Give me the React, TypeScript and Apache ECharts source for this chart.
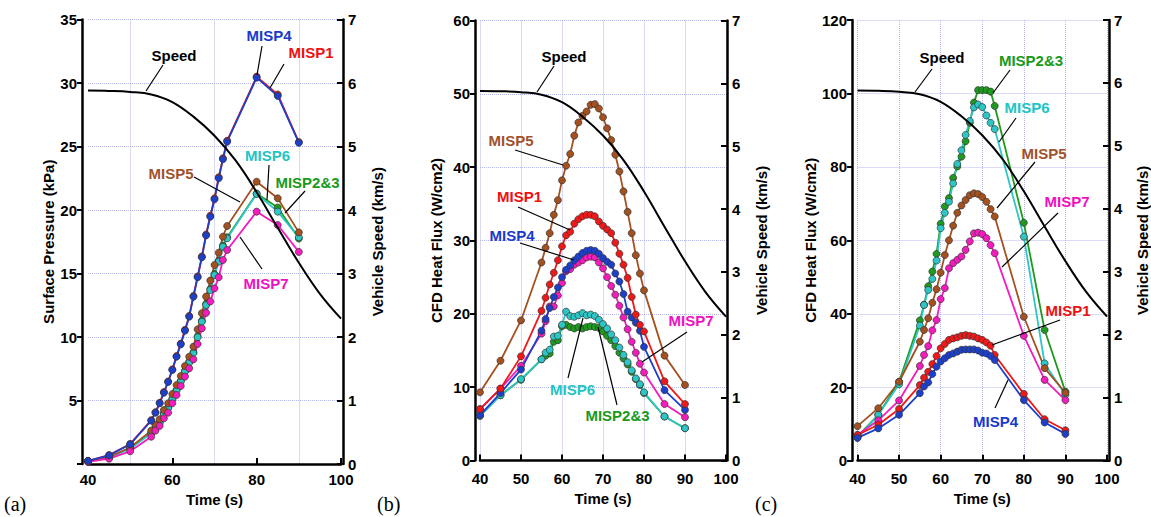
import React, { useEffect, useRef } from "react";
import * as echarts from "echarts";

// ---------- DATA ----------
const timeA = [40, 45, 50, 55, 56, 57, 58, 59, 60, 61, 62, 63, 64, 65, 66, 67, 68, 69, 70, 71, 72, 73, 80, 85, 90];
const timeB = [40, 45, 50, 55, 56, 57, 58, 59, 60, 61, 62, 63, 64, 65, 66, 67, 68, 69, 70, 71, 72, 73, 74, 75, 76, 77, 78, 79, 80, 85, 90];
const timeC = [40, 45, 50, 55, 56, 57, 58, 59, 60, 61, 62, 63, 64, 65, 66, 67, 68, 69, 70, 71, 72, 73, 80, 85, 90];

const speedTime = [40, 45, 50, 55, 60, 65, 70, 75, 80, 85, 90, 95, 100];
const speedKms = [5.88, 5.875, 5.86, 5.82, 5.7, 5.47, 5.17, 4.78, 4.28, 3.72, 3.17, 2.68, 2.29];

// (a) Surface pressure, kPa
const pressMISP1 = [0.25, 0.7, 1.58, 3.45, 4.08, 4.82, 5.66, 6.5, 7.45, 8.5, 9.48, 10.56, 11.66, 13.23, 14.77, 16.34, 18.07, 19.55, 20.92, 22.58, 24.08, 25.46, 30.5, 29.1, 25.35];
const pressMISP23 = [0.23, 0.52, 1.27, 2.47, 2.86, 3.3, 4.0, 4.44, 5.15, 5.84, 6.55, 7.34, 8.05, 8.8, 10.05, 11.28, 12.6, 13.78, 14.95, 16.0, 17.2, 17.85, 21.3, 20.2, 17.75];
const pressMISP4 = [0.24, 0.68, 1.55, 3.41, 4.04, 4.78, 5.61, 6.46, 7.4, 8.45, 9.42, 10.5, 11.6, 13.17, 14.7, 16.27, 18.0, 19.47, 20.84, 22.5, 24.0, 25.38, 30.42, 28.98, 25.3];
const pressMISP5 = [0.25, 0.55, 1.3, 2.63, 3.07, 3.52, 4.25, 4.78, 5.51, 6.22, 6.93, 7.72, 8.45, 9.24, 10.6, 11.87, 13.18, 14.44, 15.67, 16.64, 17.9, 18.74, 22.23, 20.92, 18.24];
const pressMISP6 = [0.22, 0.5, 1.2, 2.42, 2.8, 3.25, 3.94, 4.38, 5.09, 5.78, 6.48, 7.27, 7.98, 8.72, 9.98, 11.2, 12.52, 13.7, 14.88, 15.93, 17.11, 17.77, 21.26, 19.87, 17.85];
const pressMISP7 = [0.16, 0.42, 1.0, 2.15, 2.63, 3.0, 3.6, 4.04, 4.78, 5.43, 6.14, 6.88, 7.53, 8.24, 9.45, 10.68, 11.9, 12.8, 13.83, 14.7, 16.06, 16.85, 19.87, 18.82, 16.7];

// (b) CFD heat flux, W/cm2
const fluxB_MISP1 = [7.0, 9.8, 14.2, 20.4, 22.2, 24.0, 25.6, 27.3, 29.2, 30.7, 31.2, 32.3, 32.9, 33.3, 33.5, 33.5, 33.3, 32.6, 32.0, 31.5, 31.0, 29.7, 28.2, 26.7, 24.9, 22.3, 19.9, 18.5, 17.6, 10.8, 7.7];
const fluxB_MISP23 = [6.1, 8.9, 11.0, 13.8, 14.3, 14.6, 16.2, 16.4, 18.3, 18.5, 18.2, 18.0, 18.2, 18.0, 18.2, 18.3, 18.2, 18.1, 17.6, 17.0, 16.4, 15.6, 14.7, 13.9, 13.1, 12.1, 11.1, 10.3, 9.2, 6.0, 4.4];
const fluxB_MISP4 = [6.2, 9.2, 12.4, 17.7, 19.3, 20.8, 22.3, 23.6, 25.0, 26.0, 26.6, 27.3, 27.8, 28.3, 28.6, 28.7, 28.6, 28.2, 27.6, 27.1, 26.7, 25.5, 24.4, 22.7, 20.3, 19.5, 18.8, 17.7, 15.5, 9.6, 6.9];
const fluxB_MISP5 = [9.3, 13.6, 19.1, 27.0, 29.0, 31.0, 33.5, 35.5, 38.2, 40.2, 41.8, 44.3, 46.1, 47.0, 47.6, 48.5, 48.6, 48.0, 46.8, 45.3, 43.7, 41.7, 39.4, 36.7, 33.9, 31.0, 28.0, 25.5, 23.2, 14.3, 10.3];
const fluxB_MISP6 = [6.1, 8.9, 11.1, 13.8, 14.7, 15.1, 16.9, 17.0, 18.5, 20.3, 19.7, 19.6, 19.8, 20.1, 19.8, 19.9, 19.7, 19.2, 18.6, 18.0, 17.2, 16.4, 15.4, 14.4, 13.4, 12.3, 11.2, 10.4, 9.3, 6.0, 4.4];
const fluxB_MISP7 = [7.0, 9.8, 12.9, 17.3, 19.0, 21.0, 21.0, 22.5, 24.2, 25.8, 26.1, 26.7, 27.0, 27.3, 27.7, 27.8, 27.7, 27.0, 26.2, 25.0, 23.8, 22.6, 21.1, 19.5, 17.9, 16.2, 14.7, 13.2, 12.0, 7.7, 5.9];

// (c) CFD heat flux, W/cm2
const fluxC_MISP1 = [7.0, 9.8, 14.1, 20.6, 22.6, 24.2, 26.3, 28.5, 30.6, 31.8, 32.9, 33.3, 33.6, 34.0, 34.2, 34.0, 33.8, 33.3, 32.9, 32.2, 31.3, 28.8, 18.2, 11.3, 8.3];
const fluxC_MISP23 = [6.6, 12.5, 21.5, 38.2, 42.5, 47.5, 51.5, 56.3, 64.5, 69.2, 71.5, 77.0, 80.1, 82.8, 87.0, 92.0, 97.5, 100.9, 100.9, 100.9, 100.5, 96.6, 64.8, 35.6, 18.8];
const fluxC_MISP4 = [6.2, 8.8, 12.5, 18.4, 20.2, 21.3, 23.6, 25.6, 27.0, 27.9, 28.8, 29.2, 29.7, 30.2, 30.3, 30.3, 30.3, 30.0, 29.4, 29.2, 28.5, 27.4, 16.5, 10.4, 7.3];
const fluxC_MISP5 = [9.4, 14.3, 21.5, 32.4, 35.6, 38.8, 43.0, 46.7, 51.2, 56.0, 60.0, 64.0, 67.5, 69.5, 71.0, 72.3, 72.8, 72.6, 71.8, 70.5, 68.5, 66.5, 39.2, 25.2, 18.5];
const fluxC_MISP6 = [6.3, 12.5, 20.8, 36.8, 42.4, 46.5, 49.5, 54.5, 63.3, 67.5, 70.5, 75.5, 80.8, 84.5, 88.7, 92.5, 96.2, 97.0, 96.3, 94.0, 92.0, 90.3, 61.0, 26.5, 17.9];
const fluxC_MISP7 = [7.0, 11.0, 16.4, 25.8, 28.8, 31.2, 35.5, 38.3, 44.0, 47.0, 52.4, 53.8, 54.7, 55.6, 57.4, 59.7, 61.9, 62.1, 61.7, 60.6, 58.7, 56.5, 34.0, 22.0, 16.5];

// ---------- STYLE ----------
const FONT = "Liberation Sans, Arial, Helvetica, sans-serif";
const SERIF = "Liberation Serif, Times New Roman, serif";
const COL = {
  MISP1: "#f01818",
  MISP23: "#1f9a1f",
  MISP4: "#1c3fcc",
  MISP5: "#a4501f",
  MISP6: "#2cc6c6",
  MISP7: "#f41cbc",
};
const TXT = {
  MISP1: "#f01010",
  MISP23: "#1a9a1a",
  MISP4: "#1a3acc",
  MISP5: "#a0522d",
  MISP6: "#22c4c4",
  MISP7: "#f010c0",
};
const GRIDLINE = { color: "#b4b6ee", type: "dotted" as const, width: 1 };

const zip = (xs: number[], ys: number[]) => xs.map((x, i) => [x, ys[i]]);

type Panel = {
  left: number; right: number; top: number; bottom: number;
  yMax: number; yInt: number; yName: string;
  xInt: number; xMinor: boolean; hideZero: boolean;
  xOff: number; lOff: number; rOff: number; lGap: number; rGap: number;
};

const panels: Panel[] = [
  { left: 88, right: 810, top: 19.5, bottom: 53, yMax: 35, yInt: 5, yName: "Surface Pressure (kPa)", xInt: 20, xMinor: true, hideZero: true, xOff: 3, lOff: 6, rOff: 2, lGap: 26, rGap: 27 },
  { left: 480, right: 425, top: 20.5, bottom: 56.5, yMax: 60, yInt: 10, yName: "CFD Heat Flux (W/cm2)", xInt: 10, xMinor: false, hideZero: false, xOff: 5.5, lOff: 5, rOff: 1, lGap: 31, rGap: 27 },
  { left: 857.5, right: 43, top: 20, bottom: 56.3, yMax: 120, yInt: 20, yName: "CFD Heat Flux (W/cm2)", xInt: 10, xMinor: false, hideZero: false, xOff: 5.5, lOff: 5.5, rOff: 2, lGap: 26, rGap: 26 },
];

type Ann = { t: string; c: string; x: number; y: number; l: [number, number, number, number] };
const annotations: Ann[] = [
  // (a)
  { t: "Speed", c: "#000", x: 174, y: 55, l: [163, 65, 146, 91] },
  { t: "MISP4", c: TXT.MISP4, x: 269, y: 35, l: [262, 46, 257, 75] },
  { t: "MISP1", c: TXT.MISP1, x: 311, y: 52, l: [284, 64, 270, 88] },
  { t: "MISP6", c: TXT.MISP6, x: 267.5, y: 155, l: [269, 165, 267, 200] },
  { t: "MISP2&3", c: TXT.MISP23, x: 307.5, y: 182, l: [305, 191, 285, 213] },
  { t: "MISP5", c: TXT.MISP5, x: 171, y: 173, l: [194, 177, 240, 202] },
  { t: "MISP7", c: TXT.MISP7, x: 266, y: 283, l: [262, 269, 240, 237] },
  // (b)
  { t: "Speed", c: "#000", x: 564, y: 56, l: [554, 66, 537, 92] },
  { t: "MISP5", c: TXT.MISP5, x: 511, y: 140, l: [515, 150, 563, 165] },
  { t: "MISP1", c: TXT.MISP1, x: 519.5, y: 196, l: [518, 207, 570, 230] },
  { t: "MISP4", c: TXT.MISP4, x: 512, y: 235, l: [520, 243, 574, 260] },
  { t: "MISP6", c: TXT.MISP6, x: 572.5, y: 389, l: [568, 378, 583, 318] },
  { t: "MISP2&3", c: TXT.MISP23, x: 617.5, y: 415, l: [617, 405, 598, 327] },
  { t: "MISP7", c: TXT.MISP7, x: 691, y: 320, l: [687, 332, 642, 362] },
  // (c)
  { t: "Speed", c: "#000", x: 942, y: 57, l: [932, 69, 915, 92] },
  { t: "MISP2&3", c: TXT.MISP23, x: 1031, y: 60, l: [1010, 70, 993, 93] },
  { t: "MISP6", c: TXT.MISP6, x: 1027, y: 107, l: [1016, 118, 999, 142] },
  { t: "MISP5", c: TXT.MISP5, x: 1044, y: 153, l: [1035, 162, 997, 208] },
  { t: "MISP7", c: TXT.MISP7, x: 1067, y: 201, l: [1058, 213, 1002, 267] },
  { t: "MISP1", c: TXT.MISP1, x: 1068, y: 310, l: [1060, 320, 992, 345] },
  { t: "MISP4", c: TXT.MISP4, x: 995.5, y: 421, l: [995, 408, 1008, 380] },
];

const panelTags = [
  { t: "(a)", x: 4 },
  { t: "(b)", x: 377 },
  { t: "(c)", x: 755 },
];

function lineSeries(name: string, xs: number[], ys: number[], color: string, p: number) {
  return {
    name,
    type: "line",
    xAxisIndex: p,
    yAxisIndex: p * 2,
    data: zip(xs, ys),
    symbol: "circle",
    symbolSize: 7,
    lineStyle: { color, width: 1.8 },
    itemStyle: { color, borderColor: "#333", borderWidth: 0.7 },
    z: 3,
  };
}

function speedSeries(p: number) {
  return {
    name: "Speed",
    type: "line",
    xAxisIndex: p,
    yAxisIndex: p * 2 + 1,
    data: zip(speedTime, speedKms),
    smooth: 0.4,
    showSymbol: false,
    symbol: "none",
    lineStyle: { color: "#000", width: 2 },
    z: 4,
  };
}

const labelStyle = { color: "#000", fontFamily: FONT, fontWeight: "bold" as const, fontSize: 15 };

function buildOption() {
  const grid = panels.map((p) => ({ left: p.left, right: p.right, top: p.top, bottom: p.bottom, containLabel: false }));
  const xAxis = panels.map((p, i) => ({
    type: "value",
    gridIndex: i,
    min: 40,
    max: 100,
    interval: p.xInt,
    offset: p.xOff,
    name: "Time (s)",
    nameLocation: "middle",
    nameGap: 23,
    nameTextStyle: { ...labelStyle },
    axisLine: { show: true, lineStyle: { color: "#000", width: 2.5 } },
    axisTick: { show: true, inside: true, length: 6, lineStyle: { color: "#000", width: 2 } },
    axisLabel: { ...labelStyle, margin: 5 },
    splitLine: { show: !p.xMinor, lineStyle: GRIDLINE },
    minorTick: { show: false, splitNumber: 2 },
    minorSplitLine: { show: p.xMinor, lineStyle: GRIDLINE },
  }));
  const yAxis: any[] = [];
  panels.forEach((p, i) => {
    yAxis.push({
      type: "value",
      gridIndex: i,
      position: "left",
      min: 0,
      max: p.yMax,
      interval: p.yInt,
      offset: p.lOff,
      name: p.yName,
      nameLocation: "middle",
      nameGap: p.lGap,
      nameTextStyle: { ...labelStyle },
      axisLine: { show: true, lineStyle: { color: "#000", width: 2.5 } },
      axisTick: { show: true, inside: false, length: 5, lineStyle: { color: "#000", width: 2 } },
      axisLabel: {
        ...labelStyle,
        margin: 5,
        formatter: (v: number) => (p.hideZero && v === 0 ? "" : String(v)),
      },
      splitLine: { show: true, lineStyle: GRIDLINE },
    });
    yAxis.push({
      type: "value",
      gridIndex: i,
      position: "right",
      min: 0,
      max: 7,
      interval: 1,
      offset: p.rOff,
      name: "Vehicle Speed (km/s)",
      nameLocation: "middle",
      nameGap: p.rGap,
      nameTextStyle: { ...labelStyle },
      axisLine: { show: true, lineStyle: { color: "#000", width: 2.5 } },
      axisTick: { show: true, inside: true, length: 6, lineStyle: { color: "#000", width: 2 } },
      axisLabel: { ...labelStyle, margin: 5 },
      splitLine: { show: false },
    });
  });

  const series: any[] = [
    // (a)
    lineSeries("MISP2&3", timeA, pressMISP23, COL.MISP23, 0),
    lineSeries("MISP6", timeA, pressMISP6, COL.MISP6, 0),
    lineSeries("MISP5", timeA, pressMISP5, COL.MISP5, 0),
    lineSeries("MISP7", timeA, pressMISP7, COL.MISP7, 0),
    lineSeries("MISP1", timeA, pressMISP1, COL.MISP1, 0),
    lineSeries("MISP4", timeA, pressMISP4, COL.MISP4, 0),
    speedSeries(0),
    // (b)
    lineSeries("MISP2&3", timeB, fluxB_MISP23, COL.MISP23, 1),
    lineSeries("MISP6", timeB, fluxB_MISP6, COL.MISP6, 1),
    lineSeries("MISP5", timeB, fluxB_MISP5, COL.MISP5, 1),
    lineSeries("MISP7", timeB, fluxB_MISP7, COL.MISP7, 1),
    lineSeries("MISP4", timeB, fluxB_MISP4, COL.MISP4, 1),
    lineSeries("MISP1", timeB, fluxB_MISP1, COL.MISP1, 1),
    speedSeries(1),
    // (c)
    lineSeries("MISP2&3", timeC, fluxC_MISP23, COL.MISP23, 2),
    lineSeries("MISP6", timeC, fluxC_MISP6, COL.MISP6, 2),
    lineSeries("MISP5", timeC, fluxC_MISP5, COL.MISP5, 2),
    lineSeries("MISP7", timeC, fluxC_MISP7, COL.MISP7, 2),
    lineSeries("MISP1", timeC, fluxC_MISP1, COL.MISP1, 2),
    lineSeries("MISP4", timeC, fluxC_MISP4, COL.MISP4, 2),
    speedSeries(2),
  ];

  const graphic: any[] = [];
  annotations.forEach((a) => {
    graphic.push({
      type: "line",
      shape: { x1: a.l[0], y1: a.l[1], x2: a.l[2], y2: a.l[3] },
      style: { stroke: "#000", lineWidth: 1.2 },
      z: 10,
    });
    graphic.push({
      type: "text",
      x: a.x,
      y: a.y,
      style: {
        text: a.t,
        fill: a.c,
        fontFamily: FONT,
        fontWeight: "bold",
        fontSize: 15,
        align: "center",
        verticalAlign: "middle",
      },
      z: 11,
    });
  });
  panelTags.forEach((g) => {
    graphic.push({
      type: "text",
      x: g.x,
      y: 504,
      style: {
        text: g.t,
        fill: "#000",
        fontFamily: SERIF,
        fontSize: 20,
        align: "left",
        verticalAlign: "middle",
      },
    });
  });

  return {
    animation: false,
    backgroundColor: "#fff",
    textStyle: { fontFamily: FONT },
    grid,
    xAxis,
    yAxis,
    series,
    graphic,
  };
}

export default function App() {
  const ref = useRef<HTMLDivElement>(null);
  useEffect(() => {
    if (!ref.current) return;
    const chart = echarts.init(ref.current, undefined, { renderer: "svg" });
    chart.setOption(buildOption() as any);
    return () => chart.dispose();
  }, []);
  return (
    <div
      ref={ref}
      style={{ position: "fixed", left: 0, top: 0, width: 1151, height: 517, background: "#fff" }}
    />
  );
}
